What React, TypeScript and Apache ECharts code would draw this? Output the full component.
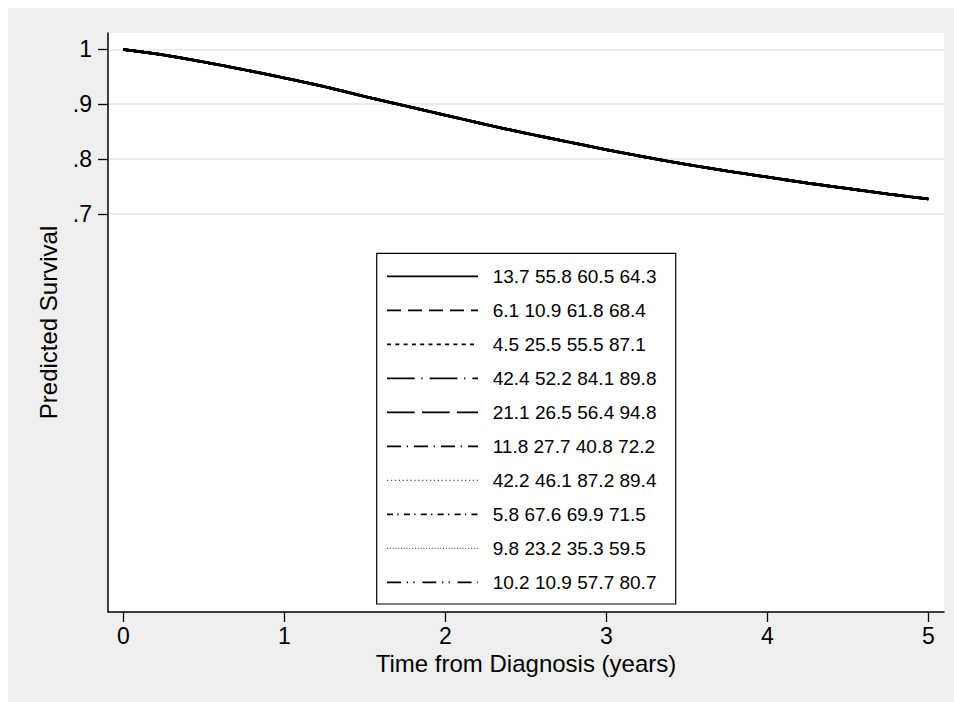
import React, { useEffect, useRef } from "react";
import * as echarts from "echarts";

// Time from diagnosis (years)
const timeYears = [0, 0.25, 0.5, 0.75, 1, 1.25, 1.5, 1.75, 2, 2.25, 2.5, 2.75, 3, 3.25, 3.5, 3.75, 4, 4.25, 4.5, 4.75, 5];
// Predicted survival (all profiles overlap almost exactly)
const predictedSurvival = [1.0, 0.99, 0.977, 0.963, 0.948, 0.932, 0.914, 0.897, 0.88, 0.863, 0.847, 0.832, 0.817, 0.803, 0.79, 0.778, 0.767, 0.756, 0.746, 0.736, 0.727];

const legendLabels = [
  "13.7 55.8 60.5 64.3",
  "6.1 10.9 61.8 68.4",
  "4.5 25.5 55.5 87.1",
  "42.4 52.2 84.1 89.8",
  "21.1 26.5 56.4 94.8",
  "11.8 27.7 40.8 72.2",
  "42.2 46.1 87.2 89.4",
  "5.8 67.6 69.9 71.5",
  "9.8 23.2 35.3 59.5",
  "10.2 10.9 57.7 80.7",
];

const yTickValues = [0.7, 0.8, 0.9, 1];
const xTickValues = [0, 1, 2, 3, 4, 5];

// line styles (dash patterns) per profile
const dashPatterns: (number[] | null)[] = [
  null,
  [14, 7],
  [4, 4.3],
  [27.7, 6.7, 1.3, 7],
  [27.7, 7.3],
  [14, 5.7, 1.3, 6],
  [1.3, 2.6],
  [6, 4.3, 1.3, 5.3],
  [1, 1.8],
  [14, 5.7, 1.3, 5.3, 1.3, 7.7],
];
const thinRows = [6, 8];

const FONT = '"Liberation Sans", Arial, Helvetica, sans-serif';

export default function App() {
  const ref = useRef<HTMLDivElement>(null);
  useEffect(() => {
    if (!ref.current) return;
    const chart = echarts.init(ref.current, null, { renderer: "svg" });

    const seriesData = timeYears.map((t, i) => [t, predictedSurvival[i]]);

    const series = legendLabels.map((name, i) => ({
      name,
      type: "line",
      data: seriesData,
      showSymbol: false,
      symbol: "none",
      smooth: 0.2,
      z: i === 0 ? 5 : 3,
      lineStyle: {
        color: "#000",
        width: 2.6,
        type: dashPatterns[i] ? dashPatterns[i] : "solid",
      },
    }));

    // legend drawn as graphic (box + samples + texts)
    const boxLeft = 368.7;
    const boxTop = 245.3;
    const boxW = 299;
    const boxH = 350.7;
    const rowY0 = 268.3;
    const rowGap = 34;
    const legendChildren: any[] = [
      {
        type: "rect",
        shape: { x: boxLeft, y: boxTop, width: boxW, height: boxH },
        style: { fill: "#fff", stroke: "#000", lineWidth: 1.2 },
      },
    ];
    legendLabels.forEach((label, i) => {
      const y = rowY0 + rowGap * i;
      const thin = thinRows.includes(i);
      legendChildren.push({
        type: "line",
        shape: { x1: 379, y1: y, x2: 470, y2: y },
        style: {
          stroke: thin ? "#333" : "#000",
          lineWidth: thin ? 1 : 1.8,
          lineDash: dashPatterns[i] || undefined,
        },
      });
      legendChildren.push({
        type: "text",
        x: 484.7,
        y: y,
        style: {
          text: label,
          fill: "#000",
          font: `19px ${FONT}`,
          verticalAlign: "middle",
          align: "left",
        },
      });
    });

    chart.setOption({
      animation: false,
      backgroundColor: "#efefef",
      textStyle: { fontFamily: FONT },
      grid: {
        left: 100,
        top: 25,
        right: 10,
        bottom: 90,
        show: true,
        backgroundColor: "#fff",
        borderWidth: 0,
        outerBoundsMode: "none",
      },
      xAxis: {
        type: "value",
        min: -0.095,
        max: 5.097,
        name: "Time from Diagnosis (years)",
        nameLocation: "middle",
        nameGap: 38,
        nameTextStyle: { fontSize: 24, color: "#000", fontFamily: FONT },
        axisLine: { show: true, onZero: false, lineStyle: { color: "#000", width: 1.5 } },
        axisTick: { show: true, length: 10, lineStyle: { color: "#000", width: 1.3 }, customValues: xTickValues },
        axisLabel: { fontSize: 23, color: "#000", margin: 12, fontFamily: FONT, customValues: xTickValues, formatter: (v: number) => String(v) },
        splitLine: { show: false },
      },
      yAxis: {
        type: "value",
        min: -0.027,
        max: 1.03,
        name: "Predicted Survival",
        nameLocation: "middle",
        nameGap: 48,
        nameRotate: 90,
        nameTextStyle: { fontSize: 24, color: "#000", fontFamily: FONT },
        axisLine: { show: true, onZero: false, lineStyle: { color: "#000", width: 1.5 } },
        axisTick: { show: true, length: 10, lineStyle: { color: "#000", width: 1.3 }, customValues: yTickValues },
        axisLabel: {
          fontSize: 23,
          color: "#000",
          margin: 16,
          fontFamily: FONT,
          customValues: yTickValues,
          formatter: (v: number) => {
            const r = Math.round(v * 10) / 10;
            return r === 1 ? "1" : String(r).replace(/^0/, "");
          },
        },
        splitLine: { show: true, lineStyle: { color: "#e6e6e6", width: 1.6 } },
      },
      series,
      graphic: [{ type: "group", z: 100, children: legendChildren }],
    });

    return () => chart.dispose();
  }, []);

  return (
    <div
      ref={ref}
      style={{ position: "absolute", left: 8, top: 8, width: 946, height: 694 }}
    />
  );
}
